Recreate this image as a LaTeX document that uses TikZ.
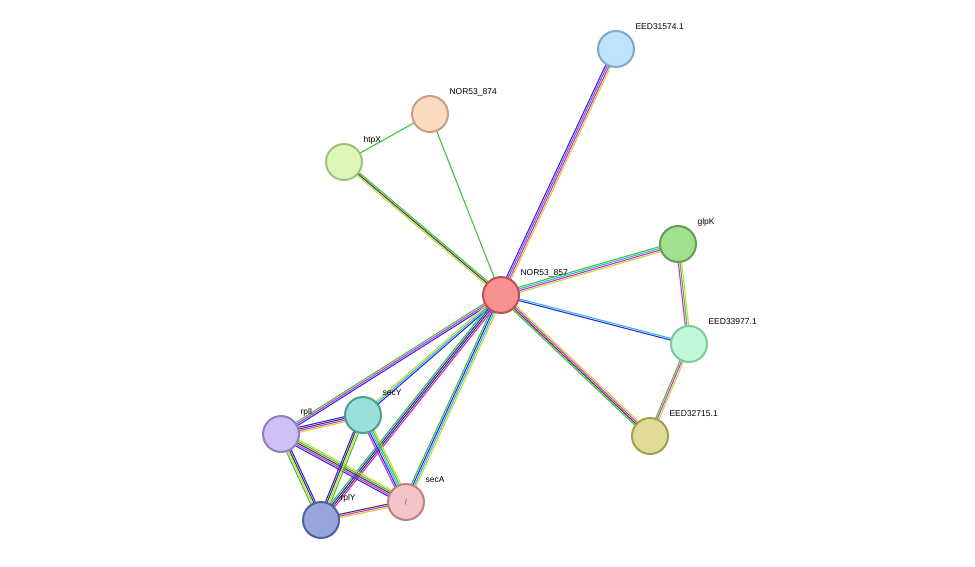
\documentclass[tikz,border=0pt]{standalone}
\usepackage{fontspec}
\setmainfont{Liberation Sans}
\usetikzlibrary{calc,backgrounds}
\definecolor{cG}{HTML}{3DC43D}
\definecolor{cB}{HTML}{2B2BE8}
\definecolor{cM}{HTML}{D62BD6}
\definecolor{cK}{HTML}{404040}
\definecolor{cY}{HTML}{C8D830}
\definecolor{cC}{HTML}{30B8E0}
\definecolor{cP}{HTML}{8060B0}
\tikzset{
 prot/.style={circle,minimum size=36pt,inner sep=0pt,line width=2pt},
 lab/.style={anchor=west,font=\fontsize{8.5}{9}\selectfont,text=black}
}
\newcommand\medge[4]{%
 \foreach \cc [count=\i] in {#4} {%
  \pgfmathsetmacro\off{(\i-(#3+1)/2)*1.7}%
  \draw[\cc,line width=1.1pt] ($(#1)!\off pt!90:(#2)$) -- ($(#2)!\off pt!-90:(#1)$);%
 }}
\begin{document}
\begin{tikzpicture}[x=1pt,y=-1pt]
\useasboundingbox (0,0) rectangle (975,566);
\node[prot,fill={rgb,255:red,248;green,144;blue,144},draw={rgb,255:red,190;green,80;blue,80}] (n857) at (501,295) {};
\node[prot,fill={rgb,255:red,190;green,228;blue,250},draw={rgb,255:red,128;green,168;blue,200}] (e315) at (616,49) {};
\node[prot,fill={rgb,255:red,252;green,220;blue,192},draw={rgb,255:red,200;green,160;blue,128}] (n874) at (430,114) {};
\node[prot,fill={rgb,255:red,220;green,248;blue,184},draw={rgb,255:red,160;green,192;blue,128}] (htpx) at (344,162) {};
\node[prot,fill={rgb,255:red,160;green,224;blue,144},draw={rgb,255:red,96;green,160;blue,80}] (glpk) at (678,244) {};
\node[prot,fill={rgb,255:red,192;green,248;blue,216},draw={rgb,255:red,128;green,200;blue,160}] (e339) at (689,344) {};
\node[prot,fill={rgb,255:red,224;green,220;blue,152},draw={rgb,255:red,160;green,160;blue,80}] (e327) at (650,436) {};
\node[prot,fill={rgb,255:red,208;green,192;blue,248},draw={rgb,255:red,144;green,128;blue,192}] (rpli) at (281,434) {};
\node[prot,fill={rgb,255:red,152;green,224;blue,216},draw={rgb,255:red,80;green,160;blue,144}] (secy) at (363,415) {};
\node[prot,fill={rgb,255:red,244;green,196;blue,200},draw={rgb,255:red,192;green,128;blue,128}] (seca) at (406,502) {};
\node[prot,fill={rgb,255:red,152;green,164;blue,220},draw={rgb,255:red,80;green,96;blue,160}] (rply) at (321,520) {};
\node[text=cM!60!black,font=\small] (seci) at (seca) {$\wr$};
\begin{scope}[on background layer]
\medge{n857}{e315}{4}{cY,cM,cP,cB}
\medge{n857}{n874}{1}{cG}
\medge{n874}{htpx}{1}{cG}
\medge{n857}{htpx}{3}{cG,cK,cY}
\medge{n857}{glpk}{4}{cY,cM,cC,cG}
\medge{n857}{e339}{2}{cB,cC}
\medge{n857}{e327}{4}{cG,cK,cM,cY}
\medge{glpk}{e339}{3}{cM,cG,cY}
\medge{e339}{e327}{3}{cG,cM,cY}
\medge{n857}{rpli}{3}{cG,cM,cB}
\medge{n857}{secy}{3}{cY,cC,cB}
\medge{n857}{seca}{4}{cG,cB,cC,cY}
\medge{n857}{rply}{4}{cG,cB,cK,cM}
\medge{rpli}{secy}{4}{cY,cM,cK,cB}
\medge{rpli}{rply}{4}{cG,cY,cK,cB}
\medge{rpli}{seca}{5}{cB,cM,cK,cG,cY}
\medge{secy}{rply}{4}{cB,cK,cY,cG}
\medge{secy}{seca}{5}{cM,cB,cC,cG,cY}
\medge{rply}{seca}{3}{cY,cM,cK}
\end{scope}
\node[lab] (l857) at ($(n857)+(16,-22)$) {NOR53\_857};
\node[lab] (l315) at ($(e315)+(16,-22)$) {EED31574.1};
\node[lab] (l874) at ($(n874)+(16,-22)$) {NOR53\_874};
\node[lab] (lhtp) at ($(htpx)+(16,-22)$) {htpX};
\node[lab] (lglp) at ($(glpk)+(16,-22)$) {glpK};
\node[lab] (l339) at ($(e339)+(16,-22)$) {EED33977.1};
\node[lab] (l327) at ($(e327)+(16,-22)$) {EED32715.1};
\node[lab] (lrpi) at ($(rpli)+(16,-22)$) {rplI};
\node[lab] (lsec) at ($(secy)+(16,-22)$) {secY};
\node[lab] (lsea) at ($(seca)+(16,-22)$) {secA};
\node[lab] (lrpy) at ($(rply)+(16,-22)$) {rplY};
\end{tikzpicture}
\end{document}
